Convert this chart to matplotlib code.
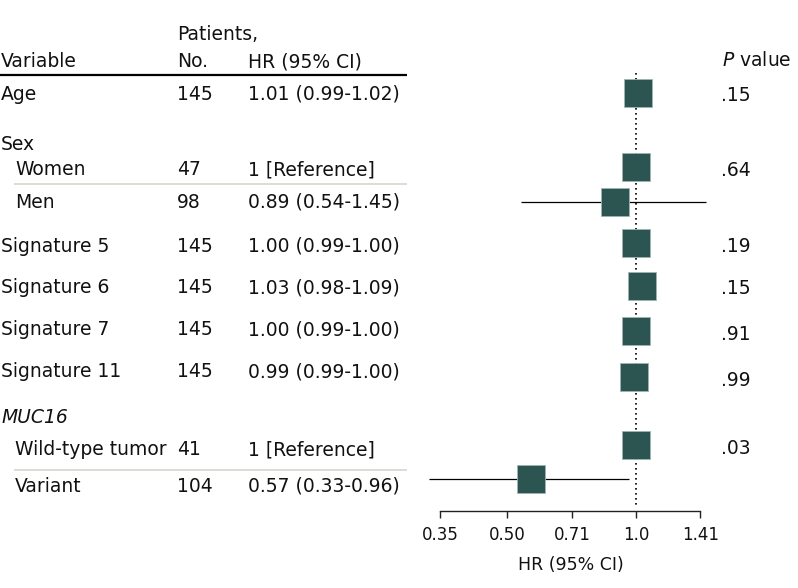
import numpy as np
import matplotlib
matplotlib.use("Agg")
import matplotlib.pyplot as plt

# ---------------- data ----------------
labels = ["Age", "Sex", "Women", "Men", "Signature 5", "Signature 6",
          "Signature 7", "Signature 11", "MUC16", "Wild-type tumor", "Variant"]
indented = [False, False, True, True, False, False, False, False, False, True, True]
patients = ["145", "", "47", "98", "145", "145", "145", "145", "", "41", "104"]
hr_text = ["1.01 (0.99-1.02)", "", "1 [Reference]", "0.89 (0.54-1.45)",
           "1.00 (0.99-1.00)", "1.03 (0.98-1.09)", "1.00 (0.99-1.00)",
           "0.99 (0.99-1.00)", "", "1 [Reference]", "0.57 (0.33-0.96)"]
hr = [1.01, np.nan, 1.00, 0.89, 1.00, 1.03, 1.00, 0.99, np.nan, 1.00, 0.57]
ci_lo = [0.99, np.nan, np.nan, 0.54, 0.99, 0.98, 0.99, 0.99, np.nan, np.nan, 0.33]
ci_hi = [1.02, np.nan, np.nan, 1.45, 1.00, 1.09, 1.00, 1.00, np.nan, np.nan, 0.96]
p_values = [".15", "", ".64", "", ".19", ".15", ".91", ".99", "", ".03", ""]
xticks = [0.35, 0.50, 0.71, 1.0, 1.41]
xtick_labels = ["0.35", "0.50", "0.71", "1.0", "1.41"]

# ---------------- layout (pixels from top) ----------------
W, H = 798, 588
text_base = [100, 150, 175, 208, 252, 293, 335, 377, 423, 455, 492]
box_y = [92.5, np.nan, 167, 202, 243, 286, 331, 377, np.nan, 445, 479]
FS = 13.5
TXT = "#111111"
BOX = "#2c5451"

fig = plt.figure(figsize=(W / 100, H / 100), dpi=100)
plt.rcParams["font.family"] = ["DejaVu Sans"]

tab = fig.add_axes([0, 0, 1, 1])
tab.set_xlim(0, W)
tab.set_ylim(H, 0)
tab.axis("off")

# headers
tab.text(177, 40, "Patients,", fontsize=FS, color=TXT, va="baseline")
tab.text(1, 67, "Variable", fontsize=FS, color=TXT, va="baseline")
tab.text(177, 67, "No.", fontsize=FS, color=TXT, va="baseline")
tab.text(248, 67, "HR (95% CI)", fontsize=FS, color=TXT, va="baseline")
tab.text(722, 66, r"$\mathit{P}$ value", fontsize=FS, color=TXT, va="baseline")
tab.plot([0, 407], [75, 75], color="black", lw=1.6, solid_capstyle="butt")
for gy in (184, 470):
    tab.plot([14, 407], [gy, gy], color="#d3d7cb", lw=1.2, solid_capstyle="butt")

for i, lab in enumerate(labels):
    x0 = 15 if indented[i] else 1
    style = "italic" if lab == "MUC16" else "normal"
    tab.text(x0, text_base[i], lab, fontsize=FS, color=TXT, va="baseline",
             fontstyle=style)
    if patients[i]:
        tab.text(177, text_base[i], patients[i], fontsize=FS, color=TXT, va="baseline")
    if hr_text[i]:
        tab.text(248, text_base[i], hr_text[i], fontsize=FS, color=TXT, va="baseline")
    if p_values[i]:
        tab.text(721, box_y[i] + 8.5, p_values[i], fontsize=FS, color=TXT,
                 va="baseline")

# ---------------- forest axes ----------------
fa = fig.add_axes([0, 0, 1, 1])
fa.patch.set_alpha(0)
fa.set_xscale("log", base=2)
x_one_px, px_per_oct = 636.3, 129.4
fa.set_xlim(2 ** ((0 - x_one_px) / px_per_oct), 2 ** ((W - x_one_px) / px_per_oct))
fa.set_ylim(H, 0)
for s in ("top", "right", "left"):
    fa.spines[s].set_visible(False)
fa.spines["bottom"].set_position(("data", 510.7))
fa.spines["bottom"].set_bounds(xticks[0], xticks[-1])
fa.spines["bottom"].set_linewidth(1.0)
fa.spines["bottom"].set_color("#222222")
fa.set_yticks([])
fa.set_xticks(xticks)
fa.set_xticklabels(xtick_labels, fontsize=12, color=TXT)
fa.xaxis.set_minor_locator(matplotlib.ticker.NullLocator())
fa.tick_params(axis="x", direction="out", length=5, width=1.0, pad=6,
               color="#222222")

fa.plot([1, 1], [73, 507], color="black", lw=1.2, linestyle=(0, (1, 2)), zorder=1)
y = np.array(box_y, dtype=float)
fa.hlines(y, ci_lo, ci_hi, color="black", lw=0.9, zorder=2)
fa.plot(hr, y, "s", ms=20, mfc=BOX, mec="#9fb6b3", mew=0.6, ls="none", zorder=3)
fa.text(np.sqrt(xticks[0] * xticks[-1]), 570, "HR (95% CI)", fontsize=12.5,
        color=TXT, ha="center", va="baseline")

fig.savefig("out.png", dpi=100)
